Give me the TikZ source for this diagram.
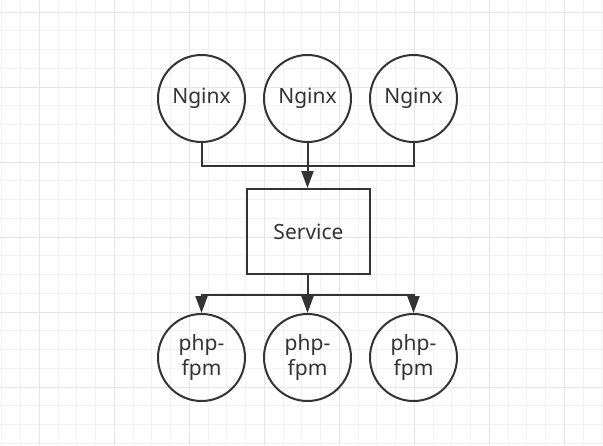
\documentclass[tikz,border=0pt]{standalone}
\usepackage{fontspec}
\setmainfont{Noto Sans}
\usetikzlibrary{arrows.meta}
\definecolor{ink}{HTML}{333333}
\definecolor{gridminor}{HTML}{F2F2F2}
\definecolor{gridmajor}{HTML}{E5E5E5}
\begin{document}
\begin{tikzpicture}[x=1pt,y=-1pt]
		\tikzstyle{server}=[circle,line width=2pt,draw=ink,text=ink,minimum size=87pt,inner sep=0pt,align=center,font=\fontsize{21}{25}\selectfont]
		\tikzstyle{balancer}=[rectangle,line width=2pt,draw=ink,text=ink,minimum width=123pt,minimum height=85pt,font=\fontsize{21}{25}\selectfont]
		\tikzstyle{link}=[draw=ink,line width=2pt]
		\tikzstyle{flow}=[link,-{Triangle[width=12pt,length=17pt]}]
		\useasboundingbox (0,0) rectangle (603,445);
		\fill[white] (0,0) rectangle (603,445);
		\begin{scope}
			\foreach \x in {1.8,20.55,...,603} \draw[gridminor,line width=1pt] (\x,0) -- (\x,445);
			\foreach \y in {12,30.75,...,445} \draw[gridminor,line width=1pt] (0,\y) -- (603,\y);
			\foreach \x in {39.3,114.3,...,603} \draw[gridmajor,line width=1pt] (\x,0) -- (\x,445);
			\foreach \y in {12,87,...,445} \draw[gridmajor,line width=1pt] (0,\y) -- (603,\y);
		\end{scope}
		\begin{scope}
			\node [server] (ngx1) at (201.5,98.5) {Nginx};
			\node [server] (ngx2) at (307.5,98.5) {Nginx};
			\node [server] (ngx3) at (413.5,98.5) {Nginx};
			\node [balancer] (svc) at (308.5,231.5) {Service};
			\node [server] (fpm1) at (201.5,357.5) {php-\\fpm};
			\node [server] (fpm2) at (307.5,357.5) {php-\\fpm};
			\node [server] (fpm3) at (413.5,357.5) {php-\\fpm};
			\coordinate (merge) at (307.5,166);
			\coordinate (split) at (307.5,295);
			\path[link] (ngx1.south) |- (merge);
			\path[link] (ngx3.south) |- (merge);
			\path[flow] (ngx2.south) -- (svc.north -| ngx2.south);
			\path[link] (svc.south -| split) -- (split);
			\path[flow] (split) -| (fpm1.north);
			\path[flow] (split) -- (fpm2.north);
			\path[flow] (split) -| (fpm3.north);
		\end{scope}
\end{tikzpicture}
\end{document}
